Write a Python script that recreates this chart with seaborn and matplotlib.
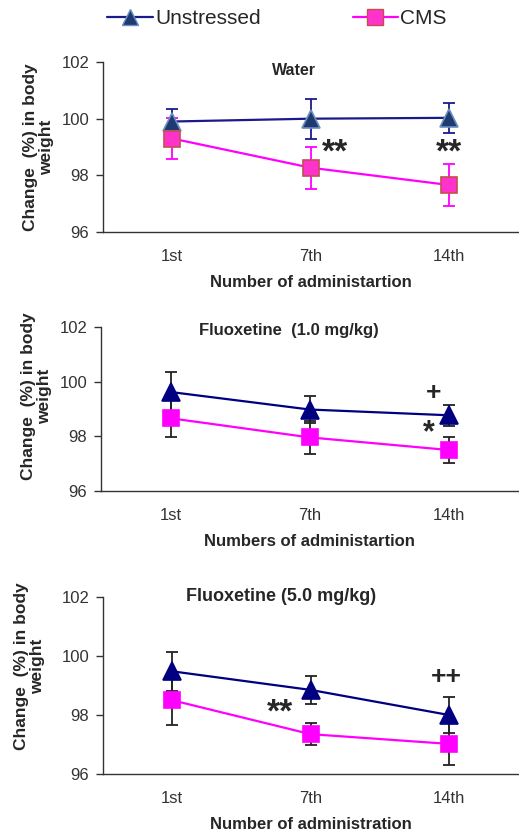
import numpy as np
import pandas as pd
import matplotlib
matplotlib.use("Agg")
import matplotlib.pyplot as plt
from matplotlib.lines import Line2D
import seaborn as sns

# data
times = ["1st", "7th", "14th"]
groups = ["Unstressed", "CMS"]

water_unstressed = [99.90, 100.00, 100.03]
water_unstressed_err = [0.45, 0.70, 0.53]
water_cms = [99.30, 98.27, 97.66]
water_cms_err = [0.72, 0.74, 0.73]

flx1_unstressed = [99.62, 98.98, 98.77]
flx1_unstressed_err = [0.73, 0.49, 0.39]
flx1_cms = [98.66, 97.96, 97.50]
flx1_cms_err = [0.67, 0.60, 0.47]

flx5_unstressed = [99.48, 98.85, 98.00]
flx5_unstressed_err = [0.67, 0.48, 0.60]
flx5_cms = [98.50, 97.35, 97.02]
flx5_cms_err = [0.83, 0.37, 0.72]

titles = ["Water", "Fluoxetine  (1.0 mg/kg)", "Fluoxetine (5.0 mg/kg)"]
xlabels = ["Number of administartion", "Numbers of administartion", "Number of administration"]
ylabel = "Change  (%) in body\nweight"

# significance marks: text, time point
sig_marks = [
    [("**", "7th"), ("**", "14th")],
    [("+", "14th"), ("*", "14th")],
    [("**", "7th"), ("++", "14th")],
]
# placement of the marks (x offset from the time point, y in data units)
sig_place = [
    [(0.18, 98.80), (0.0, 98.78)],
    [(-0.11, 99.58), (-0.14, 98.10)],
    [(-0.22, 98.08), (-0.02, 99.30)],
]

def make_df(unstr, unstr_err, cms, cms_err):
    rows = []
    for g, vals, errs in [("Unstressed", unstr, unstr_err), ("CMS", cms, cms_err)]:
        for i, t in enumerate(times):
            rows.append({"group": g, "time": t, "pos": i, "mean": vals[i], "err": errs[i]})
    return pd.DataFrame(rows)

panels = [
    make_df(water_unstressed, water_unstressed_err, water_cms, water_cms_err),
    make_df(flx1_unstressed, flx1_unstressed_err, flx1_cms, flx1_cms_err),
    make_df(flx5_unstressed, flx5_unstressed_err, flx5_cms, flx5_cms_err),
]

sns.set_style("white")
plt.rcParams["font.family"] = ["Liberation Sans", "DejaVu Sans"]

fig = plt.figure(figsize=(5.19, 8.36), dpi=100)

# axes boxes in figure fractions
boxes = [
    [0.1985, 0.7225, 0.7996, 0.2033],
    [0.1950, 0.4127, 0.8031, 0.1962],
    [0.1985, 0.0742, 0.7996, 0.2117],
]
ylabel_coords = [(-0.118, 0.50), (-0.118, 0.575), (-0.140, 0.61)]
title_pos = [(0.46, 0.95), (0.45, 0.98), (0.43, 1.0)]
title_size = [11.5, 12, 13]

styles = {
    0: {"Unstressed": dict(color="#1a1a8c", mfc="#1f3a70", mec="#6a8fc0", err="#1a1a8c"),
        "CMS": dict(color="#ff00ff", mfc="#ff33cc", mec="#c0504d", err="#ff00ff")},
    1: {"Unstressed": dict(color="#000080", mfc="#000080", mec="#000080", err="#222222"),
        "CMS": dict(color="#ff00ff", mfc="#ff00ff", mec="#ff00ff", err="#222222")},
    2: {"Unstressed": dict(color="#000080", mfc="#000080", mec="#000080", err="#222222"),
        "CMS": dict(color="#ff00ff", mfc="#ff00ff", mec="#ff00ff", err="#222222")},
}
markers = {"Unstressed": "^", "CMS": "s"}

for k, df in enumerate(panels):
    ax = fig.add_axes(boxes[k])
    for g in groups:
        sub = df[df["group"] == g]
        st = styles[k][g]
        ax.errorbar(sub["pos"], sub["mean"], yerr=sub["err"], fmt="none",
                    ecolor=st["err"], elinewidth=1.3, capsize=4, capthick=1.3, zorder=2)
        sns.lineplot(data=sub, x="pos", y="mean", ax=ax, color=st["color"],
                     marker=markers[g], markersize=13 if g == "Unstressed" else 12,
                     markerfacecolor=st["mfc"], markeredgecolor=st["mec"],
                     markeredgewidth=1.2, linewidth=1.6, zorder=3, legend=False)

    for (txt, t), (dx, y) in zip(sig_marks[k], sig_place[k]):
        size = {"**": 24, "*": 22, "+": 19, "++": 19}[txt]
        ax.text(times.index(t) + dx, y, txt, ha="center", va="center",
                fontsize=size, fontweight="bold", zorder=4)

    ax.set_xlim(-0.5, 2.5)
    ax.set_ylim(96, 102)
    ax.set_yticks([96, 98, 100, 102])
    ax.set_xticks(range(len(times)))
    ax.set_xticklabels(times)
    ax.set_xticks([-0.5, 0.5, 1.5, 2.5], minor=True)
    ax.tick_params(axis="x", which="major", length=0, pad=12, labelsize=12, colors="#333333")
    ax.tick_params(axis="x", which="minor", length=6, width=1, color="#333333", direction="out")
    ax.tick_params(axis="y", which="major", length=5, width=1, pad=5, labelsize=12,
                   colors="#333333", left=True, direction="out")
    for s in ["top", "right"]:
        ax.spines[s].set_visible(False)
    for s in ["left", "bottom"]:
        ax.spines[s].set_color("#333333")
        ax.spines[s].set_linewidth(1)

    ax.set_xlabel(xlabels[k], fontsize=12, fontweight="bold", labelpad=8)
    ax.set_ylabel(ylabel, fontsize=12.5, fontweight="bold", linespacing=1.05)
    ax.yaxis.set_label_coords(*ylabel_coords[k])
    ax.text(title_pos[k][0], title_pos[k][1], titles[k], transform=ax.transAxes,
            ha="center", va="center", fontsize=title_size[k], fontweight="bold")

handles = [
    Line2D([], [], color="#1a1a8c", marker="^", markersize=12, markerfacecolor="#1f3a70",
           markeredgecolor="#6a8fc0", linewidth=1.6),
    Line2D([], [], color="#ff00ff", marker="s", markersize=11, markerfacecolor="#ff33cc",
           markeredgecolor="#c0504d", linewidth=1.6),
]
fig.legend(handles, groups, loc="center", bbox_to_anchor=(0.534, 0.978), ncol=2,
           frameon=False, fontsize=15, handlelength=2.2, handletextpad=0.1,
           columnspacing=4.4)

fig.savefig("out.png", dpi=100)
